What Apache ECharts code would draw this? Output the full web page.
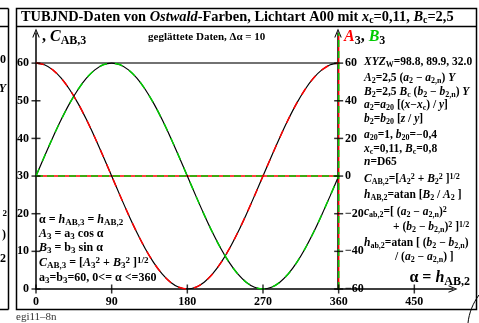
<!DOCTYPE html>
<html>
<head>
<meta charset="utf-8">
<script src="https://cdn.jsdelivr.net/npm/echarts@6/dist/echarts.min.js"></script>
<style>
html, body { margin: 0; padding: 0; background: #fff; }
#chart { width: 479px; height: 323px; }
</style>
</head>
<body>
<div id="chart"></div>
<script>
// hue angle alpha, smoothed data with step 10
var alpha = [0, 10, 20, 30, 40, 50, 60, 70, 80, 90, 100, 110, 120, 130, 140, 150, 160, 170, 180,
    190, 200, 210, 220, 230, 240, 250, 260, 270, 280, 290, 300, 310, 320, 330, 340, 350, 360];
// A3 (right axis)
var a3 = [60, 59.1, 56.4, 52.0, 46.0, 38.6, 30.0, 20.5, 10.4, 0, -10.4, -20.5, -30.0, -38.6, -46.0, -52.0, -56.4, -59.1, -60,
    -59.1, -56.4, -52.0, -46.0, -38.6, -30.0, -20.5, -10.4, 0, 10.4, 20.5, 30.0, 38.6, 46.0, 52.0, 56.4, 59.1, 60];
// B3 (right axis)
var b3 = [0, 10.4, 20.5, 30.0, 38.6, 46.0, 52.0, 56.4, 59.1, 60, 59.1, 56.4, 52.0, 46.0, 38.6, 30.0, 20.5, 10.4, 0,
    -10.4, -20.5, -30.0, -38.6, -46.0, -52.0, -56.4, -59.1, -60, -59.1, -56.4, -52.0, -46.0, -38.6, -30.0, -20.5, -10.4, 0];
// C_AB,3 (left axis)
var cab3 = [60, 60, 60, 60, 60, 60, 60, 60, 60, 60, 60, 60, 60, 60, 60, 60, 60, 60, 60,
    60, 60, 60, 60, 60, 60, 60, 60, 60, 60, 60, 60, 60, 60, 60, 60, 60, 60];
// reference lines (right axis): zero line and vertical at 360
var zeroX = [0, 360];
var zeroY = [0, 0];
var vertX = [360, 360];
var vertY = [-60, 76];

var xTicks = [0, 90, 180, 270, 360, 450];
var leftTicks = [0, 10, 20, 30, 40, 50, 60];
var rightTicks = [-60, -40, -20, 0, 20, 40, 60];

var FONT = '"Liberation Serif", "Times New Roman", serif';
var RED = '#ff0000';
var GREEN = '#00cc00';
var ARROW = 'path://M0,12 L5,0 L10,12 L8.6,12 L5,3.2 L1.4,12 Z';

function pairs(xs, ys) {
    var out = [];
    for (var i = 0; i < xs.length; i++) out.push([xs[i], ys[i]]);
    return out;
}

function ext(a, b) {
    var o = {};
    for (var k in a) o[k] = a[k];
    for (var k2 in b) o[k2] = b[k2];
    return o;
}

function rich(f) {
    var base = { fontFamily: FONT, fontWeight: 'bold', fontSize: f, fill: '#000', color: '#000' };
    var sf = Math.round(f * 0.72);
    var off = Math.round(f * 0.45);
    return {
        n: ext(base, {}),
        i: ext(base, { fontStyle: 'italic' }),
        s: ext(base, { fontSize: sf, padding: [off, 0, 0, 0] }),
        p: ext(base, { fontSize: sf, padding: [0, 0, off, 0] }),
        ar: ext(base, { fontStyle: 'italic', fill: RED, color: RED }),
        ag: ext(base, { fontStyle: 'italic', fill: GREEN, color: GREEN }),
        q: { fontFamily: FONT, fontSize: f, fill: '#333', color: '#333' }
    };
}

function txt(x, y, f, s, align) {
    return {
        type: 'text', x: x, y: y, z: 10,
        style: {
            text: s, rich: rich(f), align: align || 'left', verticalAlign: 'middle',
            fontFamily: FONT, fontWeight: 'bold', fontSize: f, fill: '#000'
        }
    };
}

function line(x1, y1, x2, y2, w) {
    return { type: 'line', z: 10, shape: { x1: x1, y1: y1, x2: x2, y2: y2 }, style: { stroke: '#000', lineWidth: w || 1.5 } };
}

var RF = 11.5;

var graphics = [
    // frame and title bar
    { type: 'rect', z: 10, shape: { x: 16.5, y: 8.5, width: 460, height: 301 }, style: { fill: 'none', stroke: '#000', lineWidth: 1.5 } },
    line(16.5, 26.5, 476.5, 26.5),
    // neighbour panel edge
    line(8.5, 8.5, 8.5, 309.5),
    line(0, 8.5, 8.5, 8.5),
    line(0, 26.5, 8.5, 26.5),
    line(0, 309.5, 8.5, 309.5),
    txt(6, 60, 12, '{n|0}', 'right'),
    txt(6, 89, 12, '{i|Y}', 'right'),
    txt(7, 214, 9, '{n|2}', 'right'),
    txt(6, 235, 12, '{n|)}', 'right'),
    txt(6, 259, 12, '{n|2}', 'right'),
    { type: 'bezierCurve', z: 10, shape: { x1: 479, y1: 295, x2: 468, y2: 323, cpx1: 473, cpy1: 303, cpx2: 469, cpy2: 313 },
        style: { stroke: '#000', lineWidth: 1, fill: 'none' } },
    txt(16, 317, 11, '{q|egi11\u20138n}'),

    txt(21, 17, 14.4, '{n|TUBJND-Daten von }{i|Ostwald}{n|-Farben, Lichtart A00 mit }{i|x}{s|c}{n|=0,11, }{i|B}{s|c}{n|=2,5}'),
    txt(42, 37, 16, '{n|, }{i|C}{s|AB,3}'),
    txt(148, 37, 11, '{n|gegl\u00e4ttete Daten, \u0394\u03b1 = 10}'),
    txt(344, 37, 16, '{ar|A}{s|3}{n|, }{ag|B}{s|3}'),

    // right formula block
    txt(364, 62, RF, '{i|XYZ}{s|W}{n|=98.8, 89.9, 32.0}'),
    txt(364, 78, RF, '{i|A}{s|2}{n|=2,5 (}{i|a}{s|2}{n| \u2212 }{i|a}{s|2,n}{n|) }{i|Y}'),
    txt(364, 92, RF, '{i|B}{s|2}{n|=2,5 }{i|B}{s|c}{n| (}{i|b}{s|2}{n| \u2212 }{i|b}{s|2,n}{n|) }{i|Y}'),
    txt(364, 105, RF, '{i|a}{s|2}{n|=}{i|a}{s|20}{n| [(}{i|x}{n|\u2212}{i|x}{s|c}{n|) / }{i|y}{n|]}'),
    txt(364, 119, RF, '{i|b}{s|2}{n|=}{i|b}{s|20}{n| [}{i|z}{n| / }{i|y}{n|]}'),
    txt(364, 135, RF, '{i|a}{s|20}{n|=1, }{i|b}{s|20}{n|=\u22120,4}'),
    txt(364, 149, RF, '{i|x}{s|c}{n|=0,11, }{i|B}{s|c}{n|=0,8}'),
    txt(364, 162, RF, '{i|n}{n|=D65}'),
    txt(364, 179, RF, '{i|C}{s|AB,2}{n|=[}{i|A}{s|2}{p|2}{n| + }{i|B}{s|2}{p|2}{n| ]}{p|1/2}'),
    txt(364, 195, RF, '{i|h}{s|AB,2}{n|=atan [}{i|B}{s|2}{n| / }{i|A}{s|2}{n| ]}'),
    txt(364, 212, RF, '{i|c}{s|ab,2}{n|=[ (}{i|a}{s|2}{n| \u2212 }{i|a}{s|2,n}{n|)}{p|2}'),
    txt(393, 227, RF, '{n|+ (}{i|b}{s|2}{n| \u2212 }{i|b}{s|2,n}{n|)}{p|2}{n| ]}{p|1/2}'),
    txt(364, 243, RF, '{i|h}{s|ab,2}{n|=atan [ (}{i|b}{s|2}{n| \u2212 }{i|b}{s|2,n}{n|)}'),
    txt(395, 257, RF, '{n|/ (}{i|a}{s|2}{n| \u2212 }{i|a}{s|2,n}{n|) ]}'),
    txt(470, 278, 16, '{n|\u03b1 = }{i|h}{s|AB,2}', 'right'),

    // left formula block
    txt(39, 220, 12, '{n|\u03b1 = }{i|h}{s|AB,3}{n| = }{i|h}{s|AB,2}'),
    txt(39, 234, 12, '{i|A}{s|3}{n| = a}{s|3}{n| cos \u03b1}'),
    txt(39, 248, 12, '{i|B}{s|3}{n| = b}{s|3}{n| sin \u03b1}'),
    txt(39, 263, 12, '{i|C}{s|AB,3}{n| = [}{i|A}{s|3}{p|2}{n| + }{i|B}{s|3}{p|2}{n| ]}{p|1/2}'),
    txt(39, 278, 12, '{n|a}{s|3}{n|=b}{s|3}{n|=60, 0<= \u03b1 <=360}')
];

var labelStyle = { fontFamily: FONT, fontWeight: 'bold', fontSize: 12, color: '#000' };

function minus(v) { return String(v).replace('-', '\u2212'); }

// tick marks crossing the axes, placed through the axis scales
function tickSeries(data, yIdx, size) {
    return { type: 'scatter', yAxisIndex: yIdx, data: data, symbol: 'rect', symbolSize: size, clip: false,
        silent: true, z: 5, itemStyle: { color: '#000' } };
}
var xTickPts = xTicks.map(function (v) { return [v, 0]; });
var leftTickPts = leftTicks.map(function (v) { return [0, v]; });
var rightTickPts = rightTicks.map(function (v) { return [360, v]; });

var option = {
    animation: false,
    backgroundColor: '#fff',
    grid: { left: 36, top: 33, width: 417, height: 256, containLabel: false },
    xAxis: {
        type: 'value', min: 0, max: 496,
        splitLine: { show: false },
        axisLine: { show: true, symbol: ['none', ARROW], symbolSize: [9, 9], lineStyle: { color: '#000', width: 1.5 } },
        axisTick: { show: false },
        axisLabel: ext(labelStyle, { margin: 7, customValues: xTicks })
    },
    yAxis: [{
        type: 'value', position: 'left', min: 0, max: 68,
        splitLine: { show: false },
        axisLine: { show: true, symbol: ['none', ARROW], symbolSize: [9, 9], lineStyle: { color: '#000', width: 1.5 } },
        axisTick: { show: false },
        axisLabel: ext(labelStyle, { margin: 7, customValues: leftTicks })
    }, {
        type: 'value', position: 'right', offset: -115, min: -60, max: 76,
        splitLine: { show: false },
        axisLine: { show: true, symbol: ['none', ARROW], symbolSize: [9, 9], lineStyle: { color: '#000', width: 1.5 } },
        axisTick: { show: false },
        axisLabel: ext(labelStyle, { margin: 7, customValues: rightTicks, formatter: minus })
    }],
    series: [
        { type: 'line', yAxisIndex: 0, data: pairs(alpha, cab3), showSymbol: false, silent: true,
            lineStyle: { color: '#444', width: 1.5 } },
        { type: 'line', yAxisIndex: 1, data: pairs(zeroX, zeroY), showSymbol: false, silent: true,
            lineStyle: { color: RED, width: 1.5 } },
        { type: 'line', yAxisIndex: 1, data: pairs(zeroX, zeroY), showSymbol: false, silent: true,
            lineStyle: { color: GREEN, width: 1.5, type: [7, 4] } },
        { type: 'line', yAxisIndex: 1, data: pairs(vertX, vertY), showSymbol: false, silent: true,
            lineStyle: { color: RED, width: 1.5 } },
        { type: 'line', yAxisIndex: 1, data: pairs(vertX, vertY), showSymbol: false, silent: true,
            lineStyle: { color: GREEN, width: 1.5, type: [7, 4] } },
        { type: 'line', yAxisIndex: 1, data: pairs(alpha, a3), smooth: 0.3, showSymbol: false, silent: true,
            lineStyle: { color: '#000', width: 1.2 } },
        { type: 'line', yAxisIndex: 1, data: pairs(alpha, a3), smooth: 0.3, showSymbol: false, silent: true,
            lineStyle: { color: RED, width: 1.5, type: [8, 8] } },
        { type: 'line', yAxisIndex: 1, data: pairs(alpha, b3), smooth: 0.3, showSymbol: false, silent: true,
            lineStyle: { color: '#000', width: 1.2 } },
        { type: 'line', yAxisIndex: 1, data: pairs(alpha, b3), smooth: 0.3, showSymbol: false, silent: true,
            lineStyle: { color: GREEN, width: 1.5, type: [8, 8] } },
        tickSeries(xTickPts, 0, [1.5, 9]),
        tickSeries(leftTickPts, 0, [9, 1.5]),
        tickSeries(rightTickPts, 1, [9, 1.5])
    ],
    graphic: graphics
};

var chart = echarts.init(document.getElementById('chart'), null, { renderer: 'canvas' });
chart.setOption(option);
</script>
</body>
</html>
